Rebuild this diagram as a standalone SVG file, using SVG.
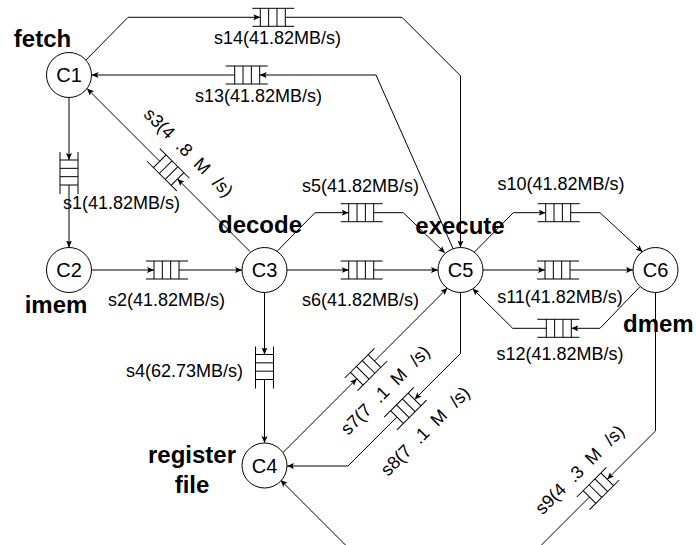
<svg xmlns="http://www.w3.org/2000/svg" xmlns:xlink="http://www.w3.org/1999/xlink" width="696" height="545" viewBox="0 0 696 545">
<style>
.e{fill:none;stroke:#000;stroke-width:1;marker-end:url(#arr)}
.q{fill:none;stroke:#000;stroke-width:1}
.n circle{fill:#fff;stroke:#000;stroke-width:1}
.n text{font-family:"Liberation Sans",Arial,sans-serif;font-size:20px;text-anchor:middle;fill:#000}
.lb{font-family:"Liberation Sans",Arial,sans-serif;font-size:18px;text-anchor:middle;fill:#000}
.bl{font-family:"Liberation Sans",Arial,sans-serif;font-size:24px;font-weight:bold;text-anchor:middle;fill:#000}
</style>
<defs>
<marker id="arr" markerUnits="userSpaceOnUse" markerWidth="8" markerHeight="8" refX="7" refY="3" orient="auto">
<path d="M0,0 L7,3 L0,6 L1.5,3 z" fill="#000"/>
</marker>
<path id="q" class="q" d="M-21,-9H21M-21,9H21M-13,-9V9M-4.67,-9V9M3.67,-9V9M12,-9V9"/>
</defs>
<rect width="696" height="545" fill="#fff"/>
<g id="annotations">
<text class="bl" x="42.5" y="47">fetch</text>
<text class="bl" x="56" y="313">imem</text>
<text class="bl" x="260" y="233">decode</text>
<text class="bl" x="460" y="234">execute</text>
<text class="bl" x="623" y="332" style="text-anchor:start">dmem</text>
<text class="bl" x="192" y="463">register</text>
<text class="bl" x="192" y="493">file</text>
</g>
<g id="connectors">
<use href="#q" transform="translate(69,173) rotate(90)"/>
<use href="#q" transform="translate(167,270)"/>
<use href="#q" transform="translate(168.25,169.75) rotate(-135)"/>
<use href="#q" transform="translate(264.5,367.5) rotate(90)"/>
<use href="#q" transform="translate(361.7,212.7)"/>
<use href="#q" transform="translate(361.7,270)"/>
<use href="#q" transform="translate(366,369.5) rotate(-45)"/>
<use href="#q" transform="translate(405.4,408.6) rotate(135)"/>
<use href="#q" transform="translate(598,488.5) rotate(135)"/>
<use href="#q" transform="translate(558.7,212.7)"/>
<use href="#q" transform="translate(558,270)"/>
<use href="#q" transform="translate(558.3,328.3) rotate(180)"/>
<use href="#q" transform="translate(246.7,75) rotate(180)"/>
<use href="#q" transform="translate(273.3,17.3)"/>
<path class="e" d="M69,97.5 V160"/>
<path class="e" d="M69,185 V247.5"/>
<path class="e" d="M91.5,270 H154"/>
<path class="e" d="M179,270 H242"/>
<path class="e" d="M250,251.5 L177.44,178.94"/>
<path class="e" d="M159.76,161.26 L87,88.5"/>
<path class="e" d="M264.5,292.5 V354.5"/>
<path class="e" d="M264.5,379.5 V443"/>
<path class="e" d="M276.7,251.7 L315,212.7 H348.7"/>
<path class="e" d="M373.7,212.7 H403.3 L445,253"/>
<path class="e" d="M287,270 H348.7"/>
<path class="e" d="M373.7,270 H438"/>
<path class="e" d="M283,452.5 L356.8,378.7"/>
<path class="e" d="M374.5,361 L447.5,288"/>
<path class="e" d="M460.5,292.5 V353.5 L414.6,399.4"/>
<path class="e" d="M396.9,417.1 L348,466 H287"/>
<path class="e" d="M655.5,292.5 V431 L607.2,479.3"/>
<path class="e" d="M589.5,497 L443.5,643 L280.5,480"/>
<path class="e" d="M474,252.5 L513.3,212.7 H545.7"/>
<path class="e" d="M570.7,212.7 H600 L642.5,252"/>
<path class="e" d="M483,270 H545"/>
<path class="e" d="M570,270 H633"/>
<path class="e" d="M640,286.7 L600,328.3 H571.3"/>
<path class="e" d="M546.3,328.3 H512.7 L472.5,288.5"/>
<path class="e" d="M453,248.5 L376,75 H259.7"/>
<path class="e" d="M234.7,75 H91.5"/>
<path class="e" d="M86,60 L128,17.3 H260.3"/>
<path class="e" d="M285.3,17.3 H402 L460.5,75.8 V247.5"/>
</g>
<g id="edge-labels">
<text class="lb" x="277.5" y="44">s14(41.82MB/s)</text>
<text class="lb" x="258.5" y="102">s13(41.82MB/s)</text>
<text class="lb" x="121.5" y="209">s1(41.82MB/s)</text>
<text class="lb" x="166.5" y="306">s2(41.82MB/s)</text>
<text class="lb" transform="translate(184.25,156.75) rotate(45)">s3(4 <tspan dx="5">.8 </tspan><tspan dx="5">M </tspan><tspan dx="7">/s)</tspan></text>
<text class="lb" x="184.5" y="377">s4(62.73MB/s)</text>
<text class="lb" x="360.5" y="192">s5(41.82MB/s)</text>
<text class="lb" x="360.5" y="306">s6(41.82MB/s)</text>
<text class="lb" transform="translate(389.5,394.5) rotate(-45)">s7(7 <tspan dx="5">.1 </tspan><tspan dx="5">M </tspan><tspan dx="7">/s)</tspan></text>
<text class="lb" transform="translate(429.5,435.5) rotate(-45)">s8(7 <tspan dx="5">.1 </tspan><tspan dx="5">M </tspan><tspan dx="7">/s)</tspan></text>
<text class="lb" transform="translate(584,474) rotate(-45)">s9(4 <tspan dx="5">.3 </tspan><tspan dx="5">M </tspan><tspan dx="7">/s)</tspan></text>
<text class="lb" x="561" y="190">s10(41.82MB/s)</text>
<text class="lb" x="560" y="303">s11(41.82MB/s)</text>
<text class="lb" x="560" y="360">s12(41.82MB/s)</text>
</g>
<g id="C1" class="n"><circle cx="69" cy="75" r="22.5"/><text x="69" y="82">C1</text></g>
<g id="C2" class="n"><circle cx="69" cy="270" r="22.5"/><text x="69" y="277">C2</text></g>
<g id="C3" class="n"><circle cx="264.5" cy="270" r="22.5"/><text x="264.5" y="277">C3</text></g>
<g id="C4" class="n"><circle cx="264.5" cy="465.5" r="22.5"/><text x="264.5" y="472.5">C4</text></g>
<g id="C5" class="n"><circle cx="460.5" cy="270" r="22.5"/><text x="460.5" y="277">C5</text></g>
<g id="C6" class="n"><circle cx="655.5" cy="270" r="22.5"/><text x="655.5" y="277">C6</text></g>
</svg>
